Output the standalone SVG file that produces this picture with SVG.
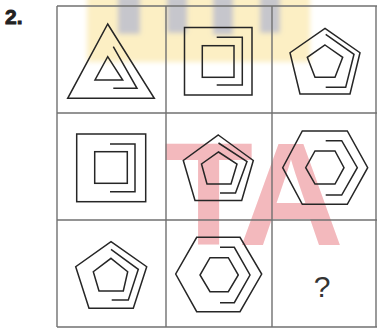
<svg xmlns="http://www.w3.org/2000/svg" width="377" height="329" viewBox="0 0 377 329">
<style>
.s{fill:none;stroke:#262626;stroke-width:1.5;stroke-linejoin:miter}
.g{stroke:#707070;stroke-width:1.4;fill:none}
</style>
<defs>
<filter id="blur" x="-10%" y="-10%" width="120%" height="130%"><feGaussianBlur stdDeviation="2.5"/></filter>
</defs>
<rect width="377" height="329" fill="#ffffff"/>
<g id="watermark">
<g filter="url(#blur)">
<rect x="87" y="-5" width="223" height="67" fill="#fcefc4"/>
<rect x="118" y="-5" width="22" height="39" fill="#c6c6cc"/>
<rect x="167" y="-5" width="20" height="38" fill="#c6c6cc"/>
<rect x="213" y="-5" width="20" height="40" fill="#c6c6cc"/>
<rect x="260" y="-5" width="20" height="38" fill="#c6c6cc"/>
</g>
<text x="164" y="245" letter-spacing="-4" font-family="Liberation Sans, Arial, sans-serif" font-weight="bold" font-size="146" fill="#f3b9bd">TA</text>
</g>
<g id="grid">
<line class="g" x1="57" y1="6" x2="377" y2="6"/>
<line class="g" x1="57" y1="113" x2="377" y2="113"/>
<line class="g" x1="57" y1="220" x2="377" y2="220"/>
<line class="g" x1="57" y1="327" x2="377" y2="327" stroke-width="2"/>
<line class="g" x1="57" y1="6" x2="57" y2="327"/>
<line class="g" x1="166" y1="6" x2="166" y2="327"/>
<line class="g" x1="272" y1="6" x2="272" y2="327"/>
<line class="g" x1="376" y1="6" x2="376" y2="327" stroke="#c8c8c8"/>
</g>
<g id="label">
<text x="5" y="24" font-family="Liberation Sans, Arial, sans-serif" font-weight="bold" font-size="21" fill="#222" stroke="#222" stroke-width="0.9">2.</text>
</g>
<g id="cell-1-1">
<polygon class="s" points="107.7,24 154.3,98.3 67.7,98.3"/>
<polygon class="s" points="107.7,56.7 122.7,80 95,80"/>
<polyline class="s" points="113.3,46.7 137,88.3 113.3,88.3"/>
</g>
<g id="cell-1-2">
<rect class="s" x="184.5" y="27.5" width="67.5" height="67.5"/>
<rect class="s" x="202.3" y="45.7" width="31.7" height="31.6"/>
<polyline class="s" points="216.7,37.3 242.3,37.3 242.3,85 216.7,85"/>
</g>
<g id="cell-1-3">
<polygon class="s" points="325,28.3 360,52.7 350,94 300,94 290,52.7"/>
<polygon class="s" points="325,45 342.7,57.3 335,77.3 315,77.3 307.3,57.3"/>
<polyline class="s" points="325.7,34.3 354,54.3 345.7,87.3 325.7,87.3"/>
</g>
<g id="cell-2-1">
<rect class="s" x="76.7" y="134" width="69" height="67.7"/>
<rect class="s" x="94.7" y="151.7" width="32.6" height="31.6"/>
<polyline class="s" points="110,144 135,144 135,191.7 110,191.7"/>
</g>
<g id="cell-2-2">
<polygon class="s" points="218.3,135 253.3,160.5 241.7,200.5 195,200.5 183.3,160.5"/>
<polygon class="s" points="218.5,152 237,164 231,184 207,184 201.5,164"/>
<polyline class="s" points="218.5,143 247,161.5 235.5,193 220,193"/>
</g>
<g id="cell-2-3">
<polygon class="s" points="302.3,131 347.3,131 367.7,167.7 347.3,204.3 302.3,204.3 282.7,167.7"/>
<polygon class="s" points="315,151 335,151 344,167.7 335,184 315,184 305.7,167.7"/>
<polyline class="s" points="325.7,140.7 341.7,140.7 357.3,167.7 341.7,195 325.7,195"/>
</g>
<g id="cell-3-1">
<polygon class="s" points="111,241.7 146.7,266.7 133.3,308.3 89,308.3 75.7,266.7"/>
<polygon class="s" points="111,258.3 127.7,271.7 123.3,291 99,291 93.3,271.7"/>
<polyline class="s" points="111,249.3 138.3,269.3 128.3,300 111.7,300"/>
</g>
<g id="cell-3-2">
<polygon class="s" points="196.7,237.3 240,237.3 261.7,274 240,311.7 196.7,311.7 175.7,274"/>
<polygon class="s" points="210,257.7 228.3,257.7 238.3,275 228.3,291.7 210,291.7 200,275"/>
<polyline class="s" points="220,247.3 234.3,247.3 250,275 234.3,302.7 220,302.7"/>
</g>
<g id="cell-3-3">
<text x="322" y="296.5" text-anchor="middle" font-family="Liberation Sans, Arial, sans-serif" font-size="30" fill="#333">?</text>
</g>
</svg>
